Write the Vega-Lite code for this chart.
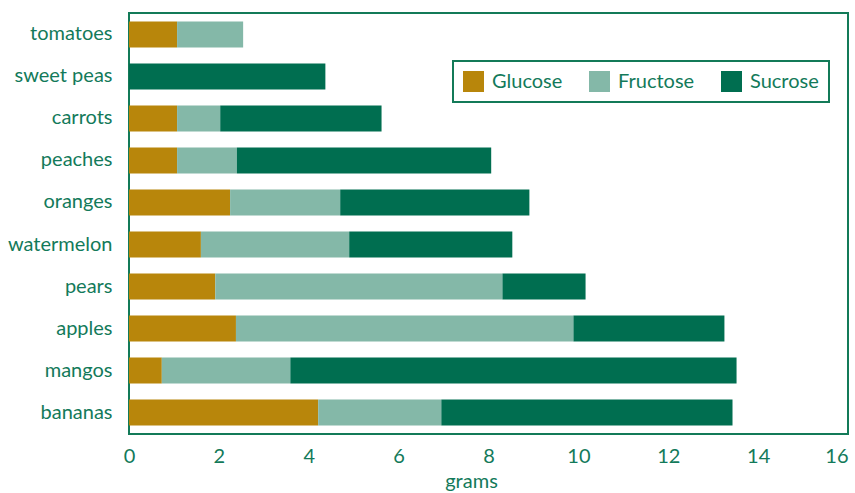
{
  "$schema": "https://vega.github.io/schema/vega-lite/v6.json",
  "width": 719,
  "height": 421,
  "autosize": {"type": "none"},
  "padding": {"left": 129, "top": 13, "right": 7, "bottom": 59},
  "config": {
    "font": "Lato",
    "view": {"stroke": "#137a58", "strokeWidth": 2},
    "axis": {"labelColor": "#137a5a", "titleColor": "#137a5a", "labelFont": "Lato", "titleFont": "Lato"},
    "legend": {"strokeWidth": 2}
  },
  "data": {
    "values": [
      {"food": "tomatoes", "sugar": "Glucose", "k": 1, "grams": 1.07},
      {"food": "tomatoes", "sugar": "Fructose", "k": 2, "grams": 1.47},
      {"food": "sweet peas", "sugar": "Sucrose", "k": 3, "grams": 4.37},
      {"food": "carrots", "sugar": "Glucose", "k": 1, "grams": 1.07},
      {"food": "carrots", "sugar": "Fructose", "k": 2, "grams": 0.96},
      {"food": "carrots", "sugar": "Sucrose", "k": 3, "grams": 3.59},
      {"food": "peaches", "sugar": "Glucose", "k": 1, "grams": 1.07},
      {"food": "peaches", "sugar": "Fructose", "k": 2, "grams": 1.33},
      {"food": "peaches", "sugar": "Sucrose", "k": 3, "grams": 5.66},
      {"food": "oranges", "sugar": "Glucose", "k": 1, "grams": 2.25},
      {"food": "oranges", "sugar": "Fructose", "k": 2, "grams": 2.45},
      {"food": "oranges", "sugar": "Sucrose", "k": 3, "grams": 4.21},
      {"food": "watermelon", "sugar": "Glucose", "k": 1, "grams": 1.6},
      {"food": "watermelon", "sugar": "Fructose", "k": 2, "grams": 3.3},
      {"food": "watermelon", "sugar": "Sucrose", "k": 3, "grams": 3.63},
      {"food": "pears", "sugar": "Glucose", "k": 1, "grams": 1.92},
      {"food": "pears", "sugar": "Fructose", "k": 2, "grams": 6.39},
      {"food": "pears", "sugar": "Sucrose", "k": 3, "grams": 1.85},
      {"food": "apples", "sugar": "Glucose", "k": 1, "grams": 2.38},
      {"food": "apples", "sugar": "Fructose", "k": 2, "grams": 7.51},
      {"food": "apples", "sugar": "Sucrose", "k": 3, "grams": 3.36},
      {"food": "mangos", "sugar": "Glucose", "k": 1, "grams": 0.73},
      {"food": "mangos", "sugar": "Fructose", "k": 2, "grams": 2.86},
      {"food": "mangos", "sugar": "Sucrose", "k": 3, "grams": 9.93},
      {"food": "bananas", "sugar": "Glucose", "k": 1, "grams": 4.21},
      {"food": "bananas", "sugar": "Fructose", "k": 2, "grams": 2.74},
      {"food": "bananas", "sugar": "Sucrose", "k": 3, "grams": 6.48}
    ]
  },
  "mark": {"type": "bar"},
  "encoding": {
    "y": {
      "field": "food",
      "type": "nominal",
      "sort": ["tomatoes", "sweet peas", "carrots", "peaches", "oranges", "watermelon", "pears", "apples", "mangos", "bananas"],
      "scale": {"paddingInner": 0.38, "paddingOuter": 0.2},
      "axis": {"title": null, "ticks": false, "domain": false, "labelFontSize": 20, "labelPadding": 17}
    },
    "x": {
      "field": "grams",
      "type": "quantitative",
      "stack": "zero",
      "scale": {"domain": [0, 16], "nice": false},
      "axis": {
        "title": "grams",
        "values": [0, 2, 4, 6, 8, 10, 12, 14, 16],
        "grid": false,
        "ticks": false,
        "domain": false,
        "labelFlush": false,
        "labelAlign": {"condition": {"test": "datum.value === 16", "value": "right"}, "value": "center"},
        "labelFontSize": 20,
        "labelPadding": 12,
        "titleFontSize": 20,
        "titleFontWeight": "normal",
        "titlePadding": 5,
        "titleX": 342,
        "titleAnchor": "start",
        "titleAlign": "center"
      }
    },
    "order": {"field": "k", "type": "quantitative"},
    "color": {
      "field": "sugar",
      "type": "nominal",
      "scale": {"domain": ["Glucose", "Fructose", "Sucrose"], "range": ["#b8860b", "#84b8a8", "#006e50"]},
      "legend": {
        "title": null,
        "orient": "none",
        "legendX": 324,
        "legendY": 48,
        "direction": "horizontal",
        "symbolType": "square",
        "symbolSize": 441,
        "symbolStrokeWidth": 0,
        "labelFontSize": 20,
        "labelColor": "#137a5a",
        "labelOffset": 8,
        "columnPadding": 26,
        "padding": 10,
        "strokeColor": "#137a58",
        "fillColor": "white"
      }
    }
  }
}
